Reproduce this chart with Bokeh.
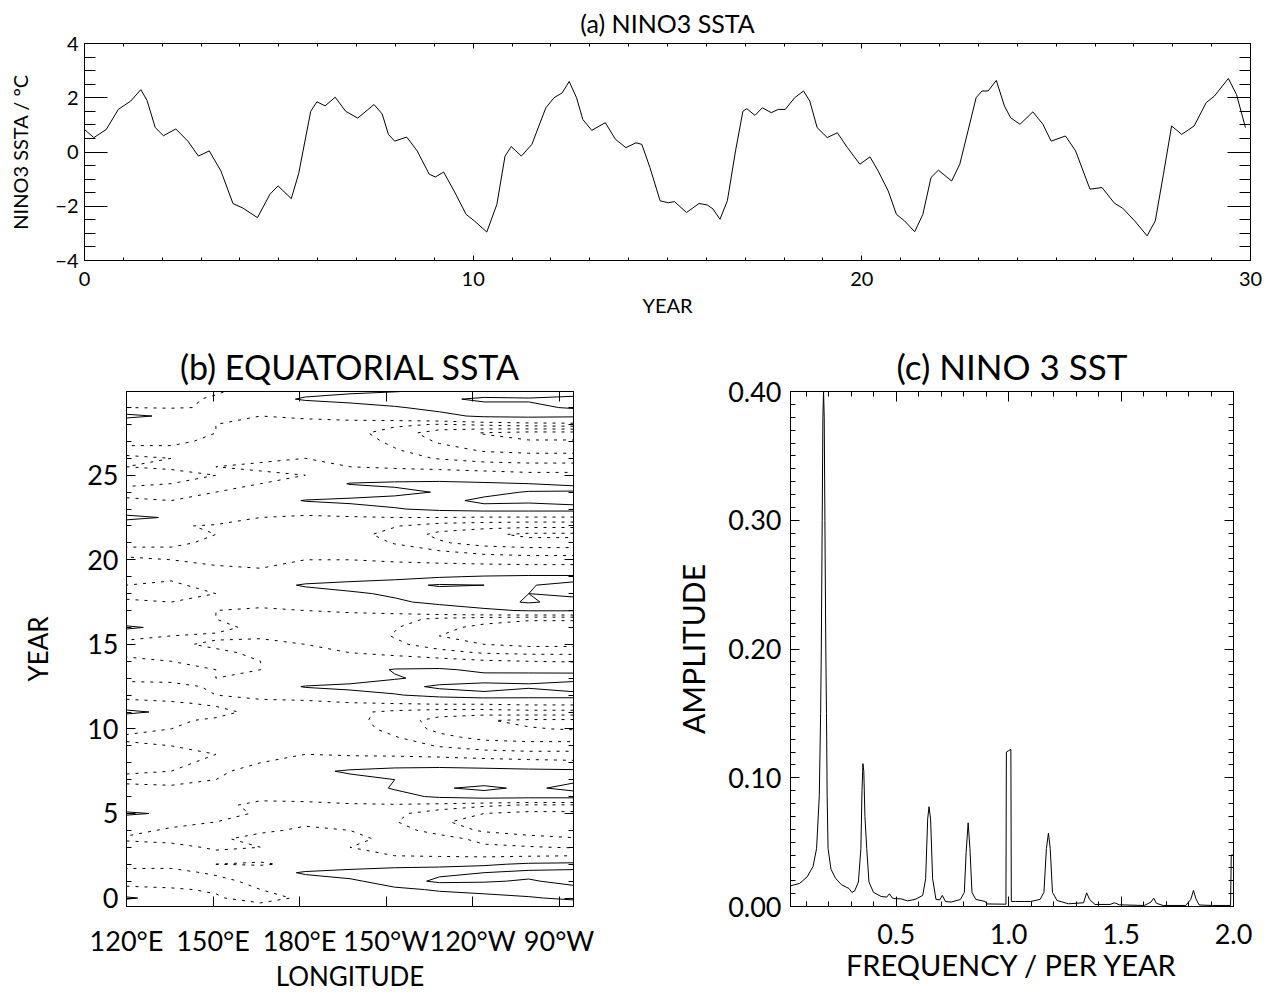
import numpy as np
from collections import defaultdict
from bokeh.plotting import figure
from bokeh.layouts import column, row
from bokeh.models import (Range1d, LinearAxis, SingleIntervalTicker, FixedTicker,
                          PrintfTickFormatter, CustomJSTickFormatter)
from bokeh.embed import file_html
from bokeh.resources import INLINE

FONT = "Lato"

# ---------------- (a) NINO3 SSTA time series ----------------
years_a = [0.0, 0.24, 0.56, 0.87, 1.19, 1.45, 1.61, 1.82, 2.03, 2.35, 2.66, 2.93, 3.21, 3.51,
           3.82, 4.08, 4.45, 4.77, 4.98, 5.32, 5.51, 5.82, 5.98, 6.19, 6.45, 6.72, 7.03, 7.45,
           7.66, 7.82, 7.98, 8.29, 8.56, 8.87, 9.03, 9.24, 9.51, 9.82, 10.03, 10.35, 10.61,
           10.82, 10.98, 11.24, 11.51, 11.87, 12.08, 12.29, 12.47, 12.66, 12.82, 13.05, 13.4,
           13.66, 13.93, 14.19,
           14.34, 14.55, 14.81, 15.02, 15.18, 15.49, 15.81, 16.02, 16.17, 16.35, 16.54, 16.75,
           16.94, 17.04, 17.25, 17.44, 17.67, 17.85, 18.03, 18.27, 18.5, 18.66, 18.85, 19.11,
           19.37, 19.63, 19.95, 20.21, 20.42, 20.68, 20.89, 21.1, 21.36, 21.57, 21.78, 21.97,
           22.31, 22.52, 22.73, 22.94, 23.09, 23.25, 23.46, 23.67, 23.83, 24.07, 24.4, 24.66,
           24.87, 25.24, 25.5, 25.87, 26.18, 26.5, 26.71, 27.02, 27.34, 27.55, 27.76, 27.97,
           28.23, 28.55, 28.86, 29.07, 29.43, 29.64, 29.87]
ssta_a = [0.83, 0.53, 0.83, 1.57, 1.88, 2.3, 1.9, 0.9, 0.6, 0.85, 0.4, -0.15, 0.04, -0.7,
          -1.9, -2.07, -2.42, -1.56, -1.25, -1.72, -0.8, 1.5, 1.85, 1.7, 2.02, 1.5, 1.25, 1.75,
          1.4, 0.65, 0.4, 0.55, 0.04, -0.82, -0.92, -0.74, -1.44, -2.3, -2.54, -2.95, -1.93,
          -0.15, 0.2, -0.15, 0.28, 1.63, 2.0, 2.18, 2.6, 2.0, 1.2, 0.8, 1.08,
          0.47, 0.16, 0.34,
          0.28, -0.58, -1.8, -1.87, -1.83, -2.23, -1.9, -1.95, -2.1, -2.48, -1.8, 0.04,
          1.5, 1.6, 1.35, 1.63, 1.45, 1.57, 1.57, 2.0, 2.25, 1.88, 0.9, 0.53,
          0.71, 0.16, -0.45, -0.18, -0.7, -1.44, -2.3, -2.54, -2.94, -2.3, -0.94, -0.67,
          -1.07, -0.45, 0.77, 2.0, 2.25, 2.25, 2.64, 1.69, 1.26, 1.02, 1.48, 1.02,
          0.4, 0.59, 0.04, -1.37, -1.31, -1.89, -2.07, -2.54, -3.09, -2.54, -0.82, 0.96,
          0.65, 0.96, 1.82, 2.06, 2.71, 2.12, 0.9]

# ---------------- (b) equatorial SSTA, longitude x year ----------------
lon_b = [120, 135.5, 151, 166.5, 182, 197.5, 213, 228.5, 244, 259.5, 275]
year_b = [-0.5 + 0.5 * k for k in range(62)]
ssta_120e = [-0.3, 1.2, -0.3, -0.8, -0.8, -0.2, -0.3, -0.2, -0.6, -0.3,
             -0.2, 1.3, -0.3, -0.2, -0.3, -0.7, -0.4, -0.3, -0.3, -0.4,
             -0.6, -0.3, -0.3, 1.4, -0.3, -0.7, -0.8, -0.3, -0.2, -0.4,
             -0.6, -0.7, -0.3, 1.3, -0.3, -0.2, -0.4, -0.7, -0.5, -0.3,
             -0.3, -0.4, -0.7, -0.3, -0.2, -0.3, 1.5, -0.3, -0.4, -0.7,
             -0.4, -0.3, -0.5, -0.4, -0.7, -0.3, -0.2, -0.3, 1.4, -0.5, -0.8, -0.6]
ssta_135e = [-0.2, 0.4, -0.4, -0.9, -0.7, -0.3, -0.4, -0.3, -0.7, -0.6,
             -0.3, 0.7, -0.3, -0.3, -0.4, -0.7, -0.5, -0.4, -0.3, -0.5,
             -0.7, -0.5, -0.4, 0.6, -0.4, -0.8, -0.7, -0.3, -0.3, -0.5,
             -0.7, -0.6, -0.5, 0.5, -0.4, -0.3, -0.5, -0.7, -0.6, -0.4,
             -0.3, -0.5, -0.6, -0.4, -0.3, -0.4, 0.8, -0.4, -0.5, -0.6,
             -0.5, -0.3, -0.6, -0.5, -0.6, -0.4, -0.3, -0.4, 0.7, -0.6, -0.7, -0.7]
ssta_151e = [-0.1, -0.4, -0.6, -0.7, -0.4, -0.5, -0.3, -0.6, -0.6, -0.8,
             -0.5, -0.2, -0.4, -0.5, -0.4, -0.5, -0.6, -0.6, -0.5, -0.7,
             -0.6, -0.8, -0.6, -0.3, -0.6, -0.5, -0.4, -0.5, -0.5, -0.7,
             -0.6, -0.4, -0.6, -0.3, -0.5, -0.5, -0.4, -0.5, -0.3, -0.5,
             -0.4, -0.7, -0.5, -0.6, -0.5, -0.6, 0.0, -0.5, -0.4, -0.5,
             -0.6, -0.5, -0.5, -0.7, -0.5, -0.6, -0.5, -0.5, -0.1, -0.4, -0.4, -0.6]
ssta_166e = [-0.2, -0.9, -0.5, -0.3, 0.2, -0.6, -0.2, -0.5, -0.3, -0.6,
             -0.7, -0.6, -0.6, -0.4, -0.3, -0.3, -0.3, -0.5, -0.6, -0.6,
             -0.5, -0.7, -0.8, -0.7, -0.7, -0.3, 0.1, -0.4, -0.5, -0.5,
             -0.4, -0.3, -0.6, -0.7, -0.6, -0.6, -0.3, -0.3, 0.2, -0.4,
             -0.5, -0.6, -0.5, -0.7, -0.6, -0.6, -0.5, -0.4, 0.1, -0.4,
             -0.5, -0.6, -0.4, -0.6, -0.5, -0.7, -0.6, -0.6, -0.5, -0.3, 0.3, -0.2]
ssta_178w = [-0.3, -0.3, -0.2, 0.3, 1.2, -0.3, -0.3, -0.4, -0.3, -0.4,
             -0.6, -0.7, -0.7, -0.2, -0.1, 0.1, 0.6, -0.2, -0.5, -0.5,
             -0.6, -0.6, -0.8, -0.9, -0.8, 0.0, 1.1, -0.2, -0.4, -0.3,
             -0.3, -0.5, -0.6, -0.7, -0.7, -0.5, -0.2, 0.2, 1.2, -0.1,
             -0.4, -0.5, -0.6, -0.7, -0.8, -0.7, -0.6, -0.2, 1.1, -0.3,
             -0.3, -0.5, -0.4, -0.5, -0.6, -0.7, -0.8, -0.7, -0.4, -0.1, 1.2, 0.4]
ssta_162w = [-0.2, 0.1, 0.3, 0.8, 1.5, 0.2, -0.4, -0.5, -0.4, -0.5,
             -0.6, -0.9, -0.6, 0.0, 0.4, 0.6, 1.2, 0.0, -0.6, -0.6,
             -0.8, -0.9, -1.0, -1.1, -0.6, 0.4, 1.4, 0.2, 0.3, -0.2,
             -0.5, -0.7, -0.8, -0.9, -0.8, -0.4, 0.2, 0.8, 1.5, 0.3,
             -0.3, -0.5, -0.7, -0.8, -1.0, -0.9, -0.6, 0.3, 1.4, 0.0,
             1.1, -0.3, -0.5, -0.7, -0.8, -0.9, -1.0, -0.8, -0.2, 0.4, 1.5, 0.7]
ssta_147w = [0.0, 0.4, 0.8, 1.5, 1.7, 0.5, -0.5, -0.6, -0.6, -0.9,
             -1.2, -1.1, -0.6, 0.6, 1.1, 1.0, 1.5, 0.2, -0.7, -0.9,
             -1.2, -1.5, -1.6, -1.4, -0.5, 0.9, 1.6, 0.9, 1.1, -0.1,
             -0.7, -1.1, -1.3, -1.2, -1.0, -0.2, 0.8, 1.2, 1.7, 0.6,
             -0.2, -0.6, -0.9, -1.3, -1.5, -1.2, -0.5, 0.9, 1.5, 0.6,
             1.3, -0.1, -0.6, -1.0, -1.2, -1.4, -1.6, -1.1, 0.2, 0.9, 1.6, 0.9]
ssta_131w = [0.2, 0.6, 1.1, 2.2, 1.8, 0.6, -0.6, -0.8, -0.9, -1.6,
             -1.9, -1.6, -0.8, 1.2, 1.9, 1.2, 1.7, 0.1, -0.8, -1.3,
             -1.8, -2.2, -2.3, -1.6, -0.4, 1.4, 2.2, 1.3, 1.2, -0.2,
             -1.0, -1.6, -2.0, -1.8, -1.4, 0.3, 1.3, 1.5, 2.1, 0.9,
             -0.2, -0.7, -1.2, -1.9, -2.2, -1.6, -0.5, 1.3, 1.6, 1.1,
             1.4, -0.1, -0.7, -1.3, -1.7, -2.1, -2.4, -1.3, 0.7, 1.3, 1.8, 1.1]
ssta_116w = [0.2, 0.7, 1.3, 2.1, 2.0, 0.8, -0.7, -1.1, -1.5, -2.1,
             -2.3, -2.0, -1.1, 1.5, 2.2, 1.5, 1.6, -0.1, -0.9, -1.6,
             -2.2, -2.6, -2.7, -1.6, -0.4, 1.7, 2.4, 1.5, 0.7, -0.4,
             -1.3, -2.0, -2.4, -2.2, -1.7, 0.8, 1.6, 1.7, 2.0, 1.1,
             -0.2, -0.8, -1.5, -2.3, -2.6, -1.7, -0.6, 1.5, 2.3, 1.6,
             1.2, -0.2, -0.8, -1.6, -2.1, -2.5, -2.8, -1.1, 1.2, 1.6, 2.2, 1.2]
ssta_100w = [0.3, 0.9, 1.5, 1.9, 2.3, 1.2, -0.6, -1.2, -1.7, -2.4,
             -2.6, -2.2, -1.3, 1.4, 1.8, 1.7, 1.4, -0.2, -1.0, -1.7,
             -2.3, -2.7, -2.9, -1.5, -0.3, 1.6, 2.1, 1.8, 0.5, -0.5,
             -1.4, -2.2, -2.6, -2.4, -1.9, 1.1, 2.1, 2.0, 1.9, 1.2,
             -0.2, -0.9, -1.6, -2.5, -2.9, -1.8, -0.6, 1.5, 2.2, 2.1,
             1.0, -0.3, -0.9, -1.7, -2.2, -2.7, -3.0, -0.9, 1.3, 1.8, 2.1, 1.3]
ssta_85w = [0.3, 1.2, 1.7, 2.3, 2.4, 1.3, -0.5, -1.3, -1.9, -2.6,
            -2.7, -2.2, -1.3, 1.4, 2.3, 1.8, 1.3, -0.3, -1.0, -1.7,
            -2.3, -2.8, -2.9, -1.5, -0.3, 1.6, 2.6, 1.6, 0.6, -0.6,
            -1.4, -2.2, -2.6, -2.4, -1.9, 1.1, 1.7, 2.2, 2.5, 1.2,
            -0.2, -0.9, -1.6, -2.5, -2.9, -1.8, -0.6, 1.5, 2.5, 2.2,
            0.6, -0.3, -0.9, -1.7, -2.2, -2.7, -3.0, -0.8, 1.2, 2.1, 2.4, 1.2]
warm_levels = [1.0, 2.0]
cold_levels = [-0.5, -1.25, -2.0, -2.75]
lon_ticks = [120, 150, 180, 210, 240, 270]
lon_tick_labels = ["120°E", "150°E", "180°E", "150°W", "120°W", "90°W"]

# ---------------- (c) amplitude spectrum of NINO3 SST ----------------
freq_c = [0.03, 0.071, 0.104, 0.13, 0.146, 0.158, 0.164, 0.167, 0.171, 0.174, 0.177, 0.180,
          0.183, 0.187, 0.190, 0.193, 0.197, 0.21, 0.23, 0.256, 0.278, 0.29, 0.303, 0.315,
          0.332, 0.343, 0.348, 0.352, 0.356, 0.361, 0.369, 0.379, 0.399, 0.433, 0.458, 0.47,
          0.483, 0.5, 0.52, 0.55, 0.584, 0.618, 0.631, 0.64, 0.646, 0.653, 0.662, 0.677,
          0.694, 0.705, 0.719, 0.744, 0.786, 0.803, 0.811, 0.82, 0.828, 0.837, 0.854, 0.896,
          0.904, 0.98, 0.988, 0.99, 1.0, 1.01, 1.012, 1.03, 1.072, 1.098, 1.14, 1.157, 1.168,
          1.177, 1.185, 1.195, 1.215, 1.266, 1.333, 1.347, 1.36, 1.384, 1.451, 1.471, 1.493,
          1.603, 1.633, 1.645, 1.657, 1.687, 1.788, 1.81, 1.822, 1.833, 1.847, 1.906, 1.987,
          1.99, 2.0]
amp_c = [0.016, 0.018, 0.023, 0.031, 0.045, 0.086, 0.15, 0.20, 0.30, 0.38, 0.40, 0.38,
         0.30, 0.20, 0.15, 0.086, 0.045, 0.029, 0.022, 0.017, 0.015, 0.014, 0.011, 0.012,
         0.019, 0.045, 0.09, 0.111, 0.105, 0.07, 0.045, 0.019, 0.011, 0.0078, 0.0073, 0.0099,
         0.0065, 0.006, 0.006, 0.0044, 0.0055, 0.0086, 0.0216, 0.068, 0.0775, 0.068, 0.0216,
         0.0055, 0.0052, 0.0086, 0.0039, 0.0034, 0.0055, 0.011, 0.042, 0.065, 0.045, 0.011,
         0.0055, 0.0039, 0.002, 0.0018, 0.0018, 0.12, 0.121, 0.122, 0.0039, 0.0039, 0.0039,
         0.0039, 0.0055, 0.011, 0.045, 0.057, 0.045, 0.011, 0.0047, 0.0021, 0.0029, 0.0106,
         0.0055, 0.0016, 0.0016, 0.0029, 0.0013, 0.0008, 0.0034, 0.0065, 0.0025, 0.0008,
         0.0008, 0.0055, 0.0125, 0.006, 0.0012, 0.0008, 0.0008, 0.04, 0.04]


def contour_paths(xs, ys, z, level):
    """Marching squares: return joined contour polylines of z at one level."""
    ny, nx = z.shape
    above = z > level

    def point(edge):
        kind, j, i = edge
        if kind == "h":
            z0, z1 = z[j, i], z[j, i + 1]
            f = (level - z0) / (z1 - z0)
            return xs[i] + f * (xs[i + 1] - xs[i]), ys[j]
        z0, z1 = z[j, i], z[j + 1, i]
        f = (level - z0) / (z1 - z0)
        return xs[i], ys[j] + f * (ys[j + 1] - ys[j])

    segs = []
    for j in range(ny - 1):
        for i in range(nx - 1):
            idx = (int(above[j, i]) + 2 * int(above[j, i + 1])
                   + 4 * int(above[j + 1, i + 1]) + 8 * int(above[j + 1, i]))
            if idx in (0, 15):
                continue
            b = ("h", j, i)
            r = ("v", j, i + 1)
            t = ("h", j + 1, i)
            l = ("v", j, i)
            table = {1: [(l, b)], 2: [(b, r)], 3: [(l, r)], 4: [(r, t)], 6: [(b, t)],
                     7: [(l, t)], 8: [(t, l)], 9: [(t, b)], 11: [(t, r)], 12: [(r, l)],
                     13: [(r, b)], 14: [(b, l)]}
            if idx in (5, 10):
                centre = (z[j, i] + z[j, i + 1] + z[j + 1, i + 1] + z[j + 1, i]) / 4 > level
                if (idx == 5) == centre:
                    segs += [(b, r), (t, l)]
                else:
                    segs += [(l, b), (r, t)]
            else:
                segs += table[idx]

    adj = defaultdict(list)
    for k, (a, c) in enumerate(segs):
        adj[a].append(k)
        adj[c].append(k)
    used = [False] * len(segs)
    paths = []
    for k in range(len(segs)):
        if used[k]:
            continue
        used[k] = True
        chain = list(segs[k])
        for front in (False, True):
            while True:
                end = chain[0] if front else chain[-1]
                nxt = [m for m in adj[end] if not used[m]]
                if not nxt:
                    break
                m = nxt[0]
                used[m] = True
                s0, s1 = segs[m]
                new = s1 if s0 == end else s0
                if front:
                    chain.insert(0, new)
                else:
                    chain.append(new)
        pts = [point(e) for e in chain]
        paths.append(([p[0] for p in pts], [p[1] for p in pts]))
    return paths


def style_axis(ax, tick_in, minor_in, label_size, axis_label_size):
    ax.major_tick_in = tick_in
    ax.major_tick_out = 0
    ax.minor_tick_in = minor_in
    ax.minor_tick_out = 0
    ax.axis_line_color = "black"
    ax.major_tick_line_color = "black"
    ax.minor_tick_line_color = "black"
    ax.major_label_text_font = FONT
    ax.major_label_text_font_size = label_size
    ax.major_label_text_color = "black"
    ax.axis_label_text_font = FONT
    ax.axis_label_text_font_style = "normal"
    ax.axis_label_text_font_size = axis_label_size
    ax.axis_label_text_color = "black"


def mirror_axis(p, side, ticker, tick_in, minor_in):
    # tick-only copy of an axis on the opposite side of the frame
    ax = LinearAxis(ticker=ticker, formatter=CustomJSTickFormatter(code="return ''"))
    style_axis(ax, tick_in, minor_in, "2px", "2px")
    ax.major_label_standoff = 0
    p.add_layout(ax, side)


def base_figure(fw, fh, xr, yr, left, right, top, bottom, title, title_size):
    p = figure(frame_width=fw, frame_height=fh, x_range=xr, y_range=yr,
               output_backend="svg", toolbar_location=None,
               min_border_left=left, min_border_right=right,
               min_border_top=top, min_border_bottom=bottom)
    p.grid.visible = False
    p.outline_line_color = "black"
    p.outline_line_width = 1
    p.background_fill_color = "white"
    p.border_fill_color = "white"
    p.title.text = title
    p.title.align = "center"
    p.title.text_font = FONT
    p.title.text_font_style = "normal"
    p.title.text_font_size = title_size
    p.title.text_color = "black"
    return p


# ---------- panel (a) ----------
pa = base_figure(1166, 217, Range1d(0, 30), Range1d(-4, 4),
                 84, 28, 43, 75, "(a) NINO3 SSTA", "25px")
pa.title.standoff = 11
pa.xaxis.ticker = SingleIntervalTicker(interval=10, num_minor_ticks=10)
pa.yaxis.ticker = SingleIntervalTicker(interval=2, num_minor_ticks=4)
style_axis(pa.xaxis[0], 5, 3, "20px", "20px")
style_axis(pa.yaxis[0], 23, 11, "20px", "20px")
pa.xaxis.axis_label = "YEAR"
pa.yaxis.axis_label = "NINO3 SSTA / °C"
pa.xaxis.major_label_standoff = 11
pa.xaxis.axis_label_standoff = 4
pa.yaxis.major_label_standoff = 6
pa.yaxis.axis_label_standoff = 20
mirror_axis(pa, "above", SingleIntervalTicker(interval=10, num_minor_ticks=10), 5, 3)
mirror_axis(pa, "right", SingleIntervalTicker(interval=2, num_minor_ticks=4), 23, 11)
pa.line(years_a, ssta_a, line_color="black", line_width=1)

# ---------- panel (b) ----------
pb = base_figure(447, 515, Range1d(120, 275), Range1d(-0.5, 29.95),
                 126, 67, 56, 86, "(b) EQUATORIAL SSTA", "34px")
pb.title.standoff = 10
pb.xaxis.ticker = FixedTicker(ticks=lon_ticks)
pb.xaxis.major_label_overrides = dict(zip(lon_ticks, lon_tick_labels))
pb.yaxis.ticker = SingleIntervalTicker(interval=5, num_minor_ticks=5)
style_axis(pb.xaxis[0], 10, 5, "27px", "26px")
style_axis(pb.yaxis[0], 9, 5, "27px", "26px")
pb.xaxis.axis_label = "LONGITUDE"
pb.yaxis.axis_label = "YEAR"
pb.xaxis.major_label_standoff = 17
pb.xaxis.axis_label_standoff = 0
pb.yaxis.major_label_standoff = 8
pb.yaxis.axis_label_standoff = 30
mirror_axis(pb, "above", FixedTicker(ticks=lon_ticks), 10, 5)
mirror_axis(pb, "right", SingleIntervalTicker(interval=5, num_minor_ticks=5), 9, 5)

field = np.column_stack([ssta_120e, ssta_135e, ssta_151e, ssta_166e, ssta_178w, ssta_162w,
                         ssta_147w, ssta_131w, ssta_116w, ssta_100w, ssta_85w])
lons = np.array(lon_b, dtype=float)
yrs = np.array(year_b, dtype=float)
warm_x, warm_y, cold_x, cold_y = [], [], [], []
for lev in warm_levels:
    for xs_, ys_ in contour_paths(lons, yrs, field, lev):
        warm_x.append(xs_)
        warm_y.append(ys_)
for lev in cold_levels:
    for xs_, ys_ in contour_paths(lons, yrs, field, lev):
        cold_x.append(xs_)
        cold_y.append(ys_)
pb.multi_line(warm_x, warm_y, line_color="black", line_width=1)
pb.multi_line(cold_x, cold_y, line_color="black", line_width=1, line_dash="3 6")

# ---------- panel (c) ----------
pc = base_figure(443, 515, Range1d(0.03, 2.0), Range1d(0, 0.4),
                 150, 45, 56, 86, "(c) NINO 3 SST", "35px")
pc.title.standoff = 10
pc.xaxis.ticker = SingleIntervalTicker(interval=0.5, num_minor_ticks=5)
pc.yaxis.ticker = SingleIntervalTicker(interval=0.1, num_minor_ticks=10)
pc.xaxis.formatter = PrintfTickFormatter(format="%.1f")
pc.yaxis.formatter = PrintfTickFormatter(format="%.2f")
style_axis(pc.xaxis[0], 10, 5, "27px", "29px")
style_axis(pc.yaxis[0], 9, 5, "27px", "30px")
pc.xaxis.axis_label = "FREQUENCY / PER YEAR"
pc.yaxis.axis_label = "AMPLITUDE"
pc.xaxis.major_label_standoff = 17
pc.xaxis.axis_label_standoff = 0
pc.yaxis.major_label_standoff = 9
pc.yaxis.axis_label_standoff = 14
mirror_axis(pc, "above", SingleIntervalTicker(interval=0.5, num_minor_ticks=5), 10, 5)
mirror_axis(pc, "right", SingleIntervalTicker(interval=0.1, num_minor_ticks=10), 9, 5)
pc.line(freq_c, amp_c, line_color="black", line_width=1)

layout = column(pa, row(pb, pc, spacing=0), spacing=0)
open("out.html", "w").write(file_html(layout, INLINE))
